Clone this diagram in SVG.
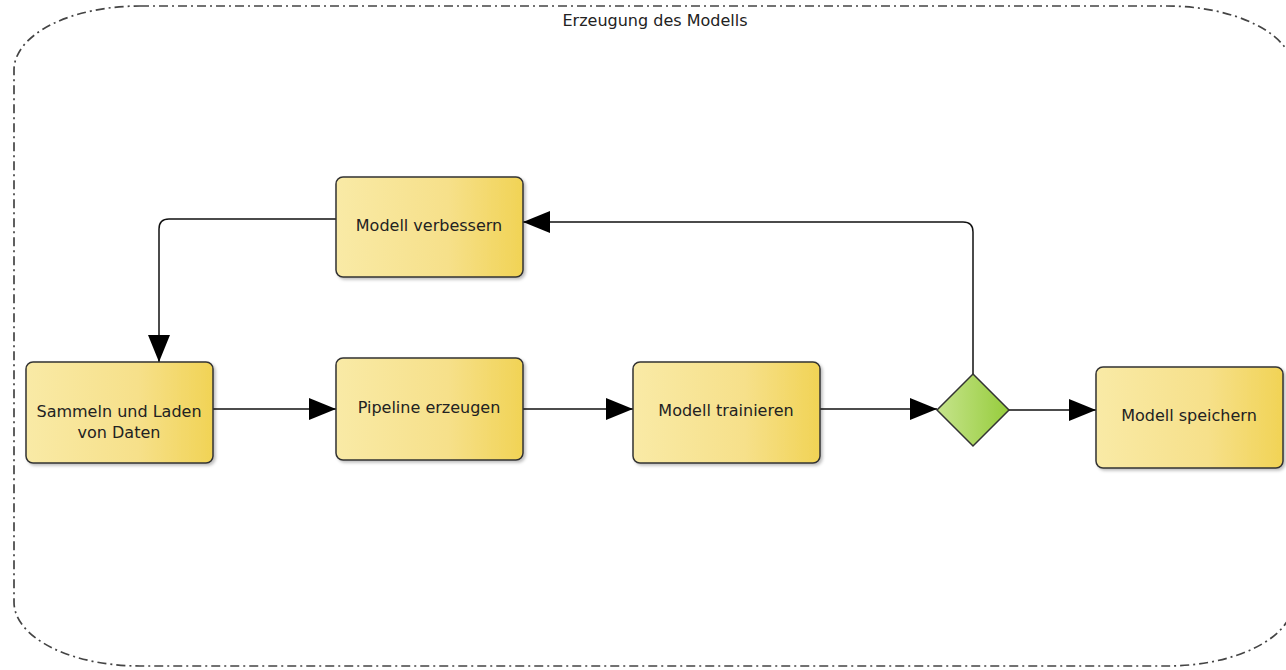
<svg xmlns="http://www.w3.org/2000/svg" width="1286" height="670" viewBox="0 0 1286 670">
<defs>
<linearGradient id="gy" x1="0" y1="0" x2="1" y2="0">
<stop offset="0" stop-color="#f9eaa6"/>
<stop offset="0.6" stop-color="#f6e08a"/>
<stop offset="1" stop-color="#f1d355"/>
</linearGradient>
<linearGradient id="gg" x1="0" y1="0" x2="1" y2="0">
<stop offset="0" stop-color="#c6e48c"/>
<stop offset="1" stop-color="#96cc3c"/>
</linearGradient>
<marker id="arr" markerWidth="28" markerHeight="24" refX="27" refY="12" orient="auto" markerUnits="userSpaceOnUse">
<path d="M0,1 L27,12 L0,23 Z" fill="#000"/>
</marker>
<filter id="sh" x="-10%" y="-10%" width="130%" height="130%">
<feDropShadow dx="2" dy="2" stdDeviation="1.5" flood-color="#000" flood-opacity="0.25"/>
</filter>
</defs>
<style>
.task{fill:url(#gy);stroke:#333;stroke-width:1.5;filter:url(#sh)}
.lbl{font-family:"DejaVu Sans",Verdana,sans-serif;font-size:16px;fill:#222;text-anchor:middle}
.conn{fill:none;stroke:#111;stroke-width:1.5}
</style>
<g id="group">
<rect x="14" y="6" width="1279" height="660" rx="126" ry="64" fill="none" stroke="#444" stroke-width="1.7" stroke-dasharray="9,4,2,4"/>
<text x="655" y="26" font-family="'DejaVu Sans',Verdana,sans-serif" font-size="16" fill="#222" text-anchor="middle">Erzeugung des Modells</text>
</g>
<g id="connectors">
<path class="conn" d="M213,409 L336,409" marker-end="url(#arr)"/>
<path class="conn" d="M523,409 L633,409" marker-end="url(#arr)"/>
<path class="conn" d="M820,409 L937,409" marker-end="url(#arr)"/>
<path class="conn" d="M1009,410 L1096,410" marker-end="url(#arr)"/>
<path class="conn" d="M973,374 L973,232 Q973,222 963,222 L523,222" marker-end="url(#arr)"/>
<path class="conn" d="M336,219 L169,219 Q159,219 159,229 L159,362" marker-end="url(#arr)"/>
</g>
<g id="sammeln">
<rect class="task" x="26" y="362" width="187" height="101" rx="7"/>
<text class="lbl" x="119" y="417">Sammeln und Laden</text>
<text class="lbl" x="119" y="438">von Daten</text>
</g>
<g id="verbessern">
<rect class="task" x="336" y="177" width="187" height="100" rx="7"/>
<text class="lbl" x="429" y="231">Modell verbessern</text>
</g>
<g id="pipeline">
<rect class="task" x="336" y="358" width="187" height="102" rx="7"/>
<text class="lbl" x="429" y="413">Pipeline erzeugen</text>
</g>
<g id="trainieren">
<rect class="task" x="633" y="362" width="187" height="101" rx="7"/>
<text class="lbl" x="726" y="416">Modell trainieren</text>
</g>
<g id="gateway">
<polygon points="973,374 1009,410 973,446 937,410" fill="url(#gg)" stroke="#333" stroke-width="1.5"/>
</g>
<g id="speichern">
<rect class="task" x="1096" y="367" width="187" height="101" rx="7"/>
<text class="lbl" x="1189" y="421">Modell speichern</text>
</g>
</svg>
